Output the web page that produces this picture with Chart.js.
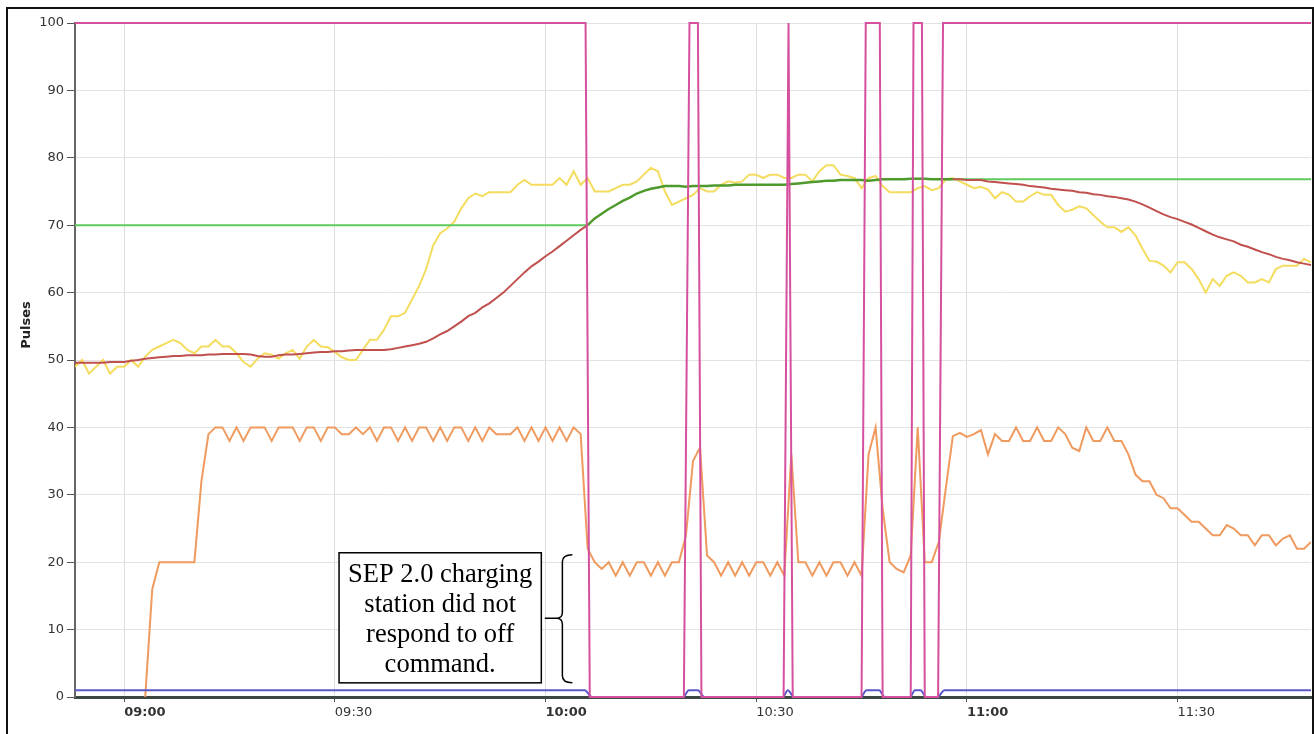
<!DOCTYPE html>
<html>
<head>
<meta charset="utf-8">
<title>Pulses</title>
<script src="https://cdn.jsdelivr.net/npm/chart.js@4.4.1/dist/chart.umd.min.js"></script>
<style>
  html, body { margin: 0; padding: 0; background: #fff; overflow: hidden; }
  #frame { position: absolute; left: 6px; top: 7px; width: 1308px; height: 760px; border: 2px solid #111; box-sizing: border-box; }
  #chart { position: absolute; left: 0; top: 0; }
</style>
</head>
<body>
<div id="frame"></div>
<canvas id="chart" width="1314" height="734"></canvas>
<script>
// one sample per minute, first sample at 08:53 (minutes since midnight)
var startMinute = 533;
var axisMin = 533, axisMax = 709;
var timeTicks = [540, 570, 600, 630, 660, 690];
var yTicks = [0, 10, 20, 30, 40, 50, 60, 70, 80, 90, 100];

// yellow - raw pulses
var rawPulses = [
  49, 50, 48, 49, 50, 48, 49, 49, 50, 49,
  50.5, 51.5, 52, 52.5, 53, 52.5, 51.5, 51, 52, 52,
  53, 52, 52, 51, 49.7, 49, 50.2, 51, 50.8, 50.2,
  51, 51.5, 50.2, 52, 53, 52, 51.9, 51.2, 50.4, 50,
  50, 51.5, 53, 53, 54.5, 56.5, 56.5, 57, 59, 61,
  63.5, 67, 68.8, 69.5, 70.5, 72.5, 74, 74.7, 74.3, 74.9,
  74.9, 74.9, 74.9, 76, 76.7, 76, 76, 76, 76, 77,
  76, 78, 76, 77, 75, 75, 75, 75.5, 76, 76,
  76.5, 77.5, 78.5, 78, 75, 73, 73.5, 74, 74.5, 75.5,
  75, 75, 76, 76.5, 76.3, 76.5, 77.5, 77.5, 77, 77.5,
  77.5, 77, 77, 77.5, 77.5, 76.5, 78, 78.9, 78.9, 77.5,
  77.3, 77, 75.5, 77, 77.3, 75.8, 74.9, 74.9, 74.9, 74.9,
  75.5, 75.8, 75.2, 75.5, 76.8, 77, 76.5, 76, 75.5, 75.7,
  75.3, 74, 74.9, 74.5, 73.5, 73.5, 74.3, 74.9, 74.5, 74.5,
  73, 72, 72.3, 72.8, 72.5, 71.5, 70.5, 69.7, 69.7, 69,
  69.7, 68.5, 66.5, 64.7, 64.6, 64, 63, 64.5, 64.5, 63.5,
  62, 60, 62, 61, 62.5, 63, 62.5, 61.5, 61.5, 62,
  61.5, 63.5, 64, 64, 64, 65, 64.5
];

// orange - output pulses
var outPulses = [
  null, null, null, null, null, null, null, null, null, null,
  0, 16, 20, 20, 20, 20, 20, 20, 32, 39,
  40, 40, 38, 40, 38, 40, 40, 40, 38, 40,
  40, 40, 38, 40, 40, 38, 40, 40, 39, 39,
  40, 39, 40, 38, 40, 40, 38, 40, 38, 40,
  40, 38, 40, 38, 40, 40, 38, 40, 38, 40,
  39, 39, 39, 40, 38, 40, 38, 40, 38, 40,
  38, 40, 39, 22, 20, 19, 20, 18, 20, 18,
  20, 20, 18, 20, 18, 20, 20, 24, 35, 37,
  21, 20, 18, 20, 18, 20, 18, 20, 20, 18,
  20, 18, 36, 20, 20, 18, 20, 18, 20, 20,
  18, 20, 18, 36, 40, 28, 20, 19, 18.5, 21,
  40, 20, 20, 23, 31, 38.7, 39.2, 38.6, 39, 39.6,
  36, 39, 38, 38, 40, 38, 38, 40, 38, 38,
  40, 39, 37, 36.5, 40, 38, 38, 40, 38, 38,
  36, 33, 32, 32, 30, 29.5, 28, 28, 27, 26,
  26, 25, 24, 24, 25.5, 25, 24, 24, 22.5, 24,
  24, 22.5, 23.5, 24, 22, 22, 23
];

// red / dark green - smoothed pulses
var smoothPulses = [
  49.6, 49.6, 49.6, 49.6, 49.6, 49.7, 49.7, 49.7, 49.9, 50.0,
  50.2, 50.3, 50.4, 50.5, 50.6, 50.6, 50.7, 50.7, 50.7, 50.8,
  50.8, 50.9, 50.9, 50.9, 50.9, 50.8, 50.6, 50.5, 50.5, 50.7,
  50.8, 50.8, 50.9, 51.0, 51.1, 51.2, 51.2, 51.3, 51.3, 51.4,
  51.5, 51.5, 51.5, 51.5, 51.5, 51.6, 51.8, 52.0, 52.2, 52.4,
  52.7, 53.2, 53.8, 54.3, 55.0, 55.7, 56.5, 57.0, 57.8, 58.4,
  59.2, 60.0, 61.0, 62.0, 63.0, 63.9, 64.6, 65.4, 66.1, 66.9,
  67.7, 68.5, 69.3, 70.0, 71.0, 71.7, 72.4, 73.0, 73.6, 74.1,
  74.7, 75.1, 75.4, 75.6, 75.8, 75.8, 75.8, 75.7, 75.8, 75.8,
  75.8, 75.9, 75.9, 75.9, 76.0, 76.0, 76.0, 76.0, 76.0, 76.0,
  76.0, 76.0, 76.1, 76.2, 76.3, 76.4, 76.5, 76.6, 76.6, 76.7,
  76.7, 76.7, 76.7, 76.6, 76.7, 76.8, 76.8, 76.8, 76.8, 76.9,
  76.9, 76.9, 76.8, 76.8, 76.8, 76.8, 76.8, 76.7, 76.7, 76.7,
  76.5, 76.4, 76.3, 76.2, 76.1, 76.0, 75.8, 75.7, 75.6, 75.4,
  75.3, 75.2, 75.1, 74.9, 74.8, 74.6, 74.5, 74.3, 74.2, 74.0,
  73.8, 73.5, 73.1, 72.6, 72.1, 71.6, 71.2, 70.9, 70.5, 70.1,
  69.6, 69.1, 68.6, 68.2, 67.9, 67.6, 67.1, 66.8, 66.4, 66.0,
  65.7, 65.3, 65.0, 64.8, 64.5, 64.3, 64.1
];
// stretch of the smoothed line drawn dark green
var controlStart = 606, controlEnd = 658;

// light green - limit
var limitTimes = [533, 606, 631, 657, 709];
var limitValues = [70, 70, null, 76.8, 76.8];

// magenta - relay state
var relayTimes = [533, 605.7, 606.3, 619.7, 620.5, 621.7, 622.2, 633.9, 634.6, 635.2,
  645.0, 645.6, 647.6, 648.0, 652.0, 652.4, 653.6, 654.0, 655.9, 656.6, 709];
var relayValues = [100, 100, 0, 0, 100, 100, 0, 0, 100, 0,
  0, 100, 100, 0, 0, 100, 100, 0, 0, 100, 100];

// blue - on flag
var flagTimes = [533, 605.6, 606.6, 619.6, 620.4, 621.7, 622.6, 633.8, 634.5, 635.4,
  644.9, 645.7, 647.5, 648.3, 651.9, 652.6, 653.4, 654.2, 655.8, 656.8, 709];
var flagValues = [1, 1, 0, 0, 1, 1, 0, 0, 1, 0,
  0, 1, 1, 0, 0, 1, 1, 0, 0, 1, 1];

var noteLines = ['SEP 2.0 charging', 'station did not', 'respond to off', 'command.'];
var noteBox = { x0: 570.6, x1: 599.4, y0: 21.4, y1: 2.1 };
var brace = { x: 602.4, tip: 599.9, top: 21.1, mid: 11.7, bottom: 2.1 };

function series(times, values) {
  return times.map(function(t, i) { return { x: t, y: values[i] }; });
}
function perMinute(values) {
  return values.map(function(v, i) { return { x: startMinute + i, y: v }; });
}
function hhmm(m) {
  var h = Math.floor(m / 60), mm = m % 60;
  return (h < 10 ? '0' : '') + h + ':' + (mm < 10 ? '0' : '') + mm;
}

// text box, brace and the y title
var notePlugin = {
  id: 'note',
  afterDraw: function(chart) {
    var ctx = chart.ctx, xs = chart.scales.x, ys = chart.scales.y;
    var l = xs.getPixelForValue(noteBox.x0), r = xs.getPixelForValue(noteBox.x1);
    var t = ys.getPixelForValue(noteBox.y0), b = ys.getPixelForValue(noteBox.y1);
    ctx.save();
    ctx.fillStyle = '#fff';
    ctx.fillRect(l, t, r - l, b - t);
    ctx.strokeStyle = '#000';
    ctx.lineWidth = 1.5;
    ctx.strokeRect(l, t, r - l, b - t);
    ctx.fillStyle = '#000';
    ctx.font = '26.5px "Liberation Serif"';
    ctx.textAlign = 'center';
    ctx.textBaseline = 'alphabetic';
    noteLines.forEach(function(s, i) { ctx.fillText(s, (l + r) / 2, t + 29 + i * 30); });

    var bx = xs.getPixelForValue(brace.x), tip = xs.getPixelForValue(brace.tip);
    var bt = ys.getPixelForValue(brace.top), bm = ys.getPixelForValue(brace.mid), bb = ys.getPixelForValue(brace.bottom);
    ctx.beginPath();
    ctx.moveTo(bx + 10, bt);
    ctx.quadraticCurveTo(bx, bt, bx, bt + 7);
    ctx.lineTo(bx, bm - 6);
    ctx.quadraticCurveTo(bx, bm, bx - 6, bm);
    ctx.lineTo(tip, bm);
    ctx.moveTo(bx - 6, bm);
    ctx.quadraticCurveTo(bx, bm, bx, bm + 6);
    ctx.lineTo(bx, bb - 7);
    ctx.quadraticCurveTo(bx, bb, bx + 10, bb);
    ctx.stroke();

    ctx.translate(27, 325);
    ctx.rotate(-Math.PI / 2);
    ctx.font = 'bold 13px "DejaVu Sans"';
    ctx.fillStyle = '#222';
    ctx.textBaseline = 'middle';
    ctx.fillText('Pulses', 0, 0);
    ctx.restore();
  }
};

var ctx = document.getElementById('chart').getContext('2d');
var chart = new Chart(ctx, {
  type: 'line',
  data: {
    datasets: [
      { label: 'Relay', data: series(relayTimes, relayValues), borderColor: '#d5509e', borderWidth: 2, clip: 4 },
      { label: 'Flag', data: series(flagTimes, flagValues), borderColor: '#5858c8', borderWidth: 2, cubicInterpolationMode: 'monotone' },
      {
        label: 'Smoothed',
        data: perMinute(smoothPulses),
        borderColor: '#c0504d',
        borderWidth: 2,
        segment: {
          borderColor: function(c) {
            return (c.p0.parsed.x >= controlStart && c.p0.parsed.x < controlEnd) ? '#4f9a2c' : undefined;
          },
          borderWidth: function(c) {
            return (c.p0.parsed.x >= controlStart && c.p0.parsed.x < controlEnd) ? 2.5 : undefined;
          }
        }
      },
      { label: 'Limit', data: series(limitTimes, limitValues), borderColor: '#5dcb5d', borderWidth: 2 },
      { label: 'Output', data: perMinute(outPulses), borderColor: '#ef9a5e', borderWidth: 2 },
      { label: 'Raw', data: perMinute(rawPulses), borderColor: '#f4dc5e', borderWidth: 2 }
    ]
  },
  options: {
    responsive: false,
    animation: false,
    spanGaps: false,
    elements: { point: { radius: 0 }, line: { tension: 0 } },
    layout: { padding: { left: 0, top: 23, right: 3, bottom: 0 } },
    plugins: { legend: { display: false }, tooltip: { enabled: false } },
    scales: {
      x: {
        type: 'linear',
        min: axisMin,
        max: axisMax,
        afterBuildTicks: function(s) { s.ticks = timeTicks.map(function(v) { return { value: v }; }); },
        afterFit: function(s) { s.height = 37; },
        grid: { color: '#dddddd', lineWidth: 1, tickLength: 5, tickColor: '#555' },
        border: { display: true, color: '#3b4740', width: 3 },
        ticks: {
          align: 'start',
          color: '#333',
          padding: 3,
          maxRotation: 0,
          font: function(c) {
            var bold = c.tick && c.tick.value % 60 === 0;
            return { family: 'DejaVu Sans', size: 13, weight: bold ? 'bold' : 'normal' };
          },
          callback: function(v) { return hhmm(v); }
        }
      },
      y: {
        min: 0,
        max: 100,
        afterBuildTicks: function(s) { s.ticks = yTicks.map(function(v) { return { value: v }; }); },
        afterFit: function(s) { s.width = 75; },
        grid: { color: '#e3e3e3', lineWidth: 1, tickLength: 8, tickColor: '#555' },
        border: { display: true, color: '#666', width: 2 },
        ticks: { color: '#333', padding: 3, font: { family: 'DejaVu Sans', size: 13 } }
      }
    }
  },
  plugins: [notePlugin]
});
</script>
</body>
</html>
